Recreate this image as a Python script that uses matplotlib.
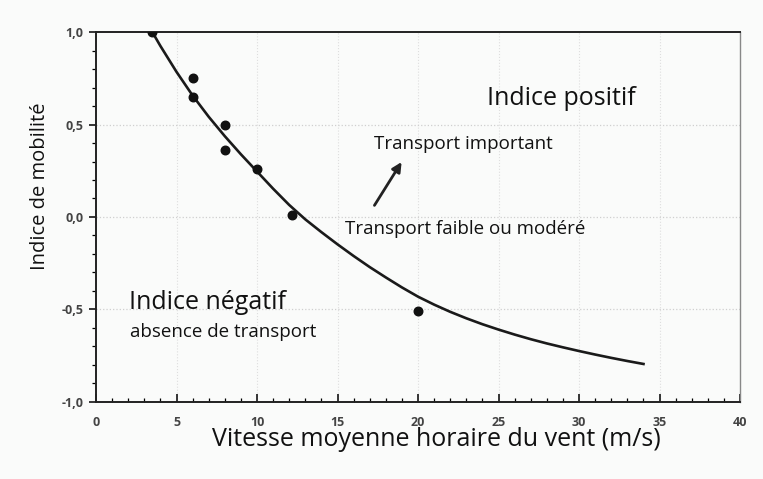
import matplotlib.pyplot as plt
from matplotlib.ticker import MultipleLocator, FuncFormatter

# Measured points (wind speed m/s, mobility index)
speeds = [3.5, 6, 6, 8, 8, 10, 12.2, 20]
mobility = [1.00, 0.75, 0.65, 0.50, 0.36, 0.26, 0.01, -0.51]

# Fitted curve
curve_x = [3.5, 4, 5, 6, 7, 8, 9, 10, 11, 12, 13, 14, 15, 16, 17, 18, 19, 20,
           21, 22, 23, 24, 25, 26, 27, 28, 29, 30, 31, 32, 33, 34]
curve_y = [1.000, 0.925, 0.785, 0.657, 0.542, 0.437, 0.339, 0.246, 0.153, 0.065,
           -0.013, -0.082, -0.148, -0.211, -0.271, -0.327, -0.381, -0.431, -0.474,
           -0.513, -0.548, -0.580, -0.609, -0.636, -0.661, -0.684, -0.705, -0.725,
           -0.744, -0.762, -0.779, -0.795]

plt.rcParams["font.family"] = ["Open Sans", "DejaVu Sans"]

fig = plt.figure(figsize=(7.63, 4.79), dpi=100, facecolor="#fafbfa")
ax = fig.add_axes([0.1258, 0.161, 0.8442, 0.772])
ax.set_facecolor("#fafbfa")

ax.plot(curve_x, curve_y, color="#1a1a1a", lw=1.9, zorder=3, solid_joinstyle="round")
ax.scatter(speeds, mobility, s=38, color="#111111", zorder=4)

ax.set_xlim(0, 40)
ax.set_ylim(-1.0, 1.0)

# Faint dotted grid like the scanned original
for gx in [5, 10, 15, 20, 25, 30, 35]:
    ax.axvline(gx, color="#dedede", lw=0.8, ls=":", zorder=1)
for gy in [0.5, 0.0, -0.5]:
    ax.axhline(gy, color="#cfcfcf", lw=0.9, ls=":", zorder=1)

ax.xaxis.set_major_locator(MultipleLocator(5))
ax.xaxis.set_minor_locator(MultipleLocator(1))
ax.yaxis.set_major_locator(MultipleLocator(0.5))
ax.yaxis.set_minor_locator(MultipleLocator(0.1))
ax.yaxis.set_major_formatter(FuncFormatter(lambda v, p: f"{v:.1f}".replace(".", ",")))

ax.tick_params(axis="x", which="major", direction="in", length=6, width=1.1,
               labelsize=9, labelcolor="#444444", pad=10)
ax.tick_params(axis="x", which="minor", direction="in", length=3, width=0.9)
ax.tick_params(axis="y", which="major", direction="out", length=5, width=1.1,
               labelsize=9, labelcolor="#444444", pad=4)
ax.tick_params(axis="y", which="minor", direction="out", length=3, width=0.9)
for lab in ax.get_xticklabels() + ax.get_yticklabels():
    lab.set_fontweight("bold")

for side in ["left", "bottom", "top"]:
    ax.spines[side].set_color("#222222")
    ax.spines[side].set_linewidth(1.4)
ax.spines["right"].set_color("#888888")
ax.spines["right"].set_linewidth(1.0)

# Annotations
ax.text(28.9, 0.64, "Indice positif", fontsize=18, ha="center", va="center", color="#111111")
ax.text(22.8, 0.395, "Transport important", fontsize=13.5, ha="center", va="center", color="#111111")
ax.text(22.9, -0.065, "Transport faible ou modéré", fontsize=13.5, ha="center", va="center", color="#111111")
ax.text(2.05, -0.46, "Indice négatif", fontsize=18, ha="left", va="center", color="#111111")
ax.text(2.1, -0.62, "absence de transport", fontsize=13.5, ha="left", va="center", color="#111111")
ax.annotate("", xy=(19.07, 0.31), xytext=(17.2, 0.05),
            arrowprops=dict(arrowstyle="-|>", color="#222222", lw=2.0, mutation_scale=14))

fig.text(0.572, 1 - 440 / 479, "Vitesse moyenne horaire du vent (m/s)", fontsize=18,
         ha="center", va="center", color="#111111")
fig.text(40 / 763, 1 - 186 / 479, "Indice de mobilité", fontsize=14.5, rotation=90,
         ha="center", va="center", color="#111111")

fig.savefig("out.png", dpi=100, facecolor=fig.get_facecolor())
